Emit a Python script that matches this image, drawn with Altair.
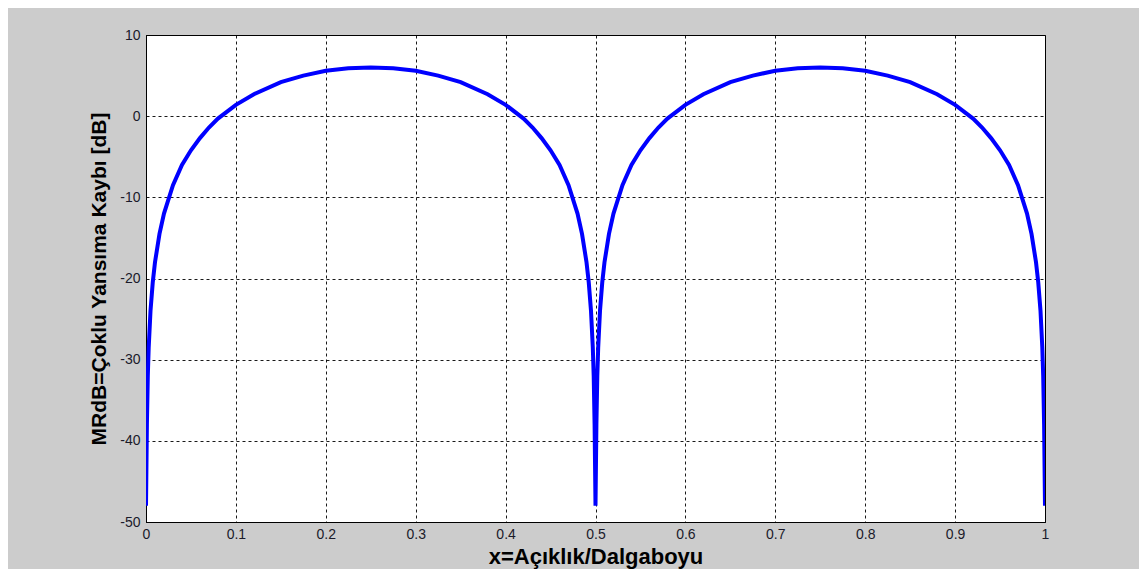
import altair as alt
import pandas as pd

x_vals = [
    0, 0.001, 0.002, 0.003, 0.005, 0.0075, 0.01, 0.015, 0.02, 0.03, 0.04, 0.05,
    0.06, 0.07, 0.08, 0.1, 0.12, 0.15, 0.175, 0.2, 0.225, 0.25, 0.275, 0.3,
    0.325, 0.35, 0.38, 0.4, 0.42, 0.43, 0.44, 0.45, 0.46, 0.47, 0.48, 0.485,
    0.49, 0.4925, 0.495, 0.497, 0.498, 0.499, 0.5,
    0.501, 0.502, 0.503, 0.505, 0.5075, 0.51, 0.515, 0.52, 0.53, 0.54, 0.55,
    0.56, 0.57, 0.58, 0.6, 0.62, 0.65, 0.675, 0.7, 0.725, 0.75, 0.775, 0.8,
    0.825, 0.85, 0.88, 0.9, 0.92, 0.93, 0.94, 0.95, 0.96, 0.97, 0.98, 0.985,
    0.99, 0.9925, 0.995, 0.997, 0.998, 0.999, 1.0,
]
mrdb_vals = [
    -48, -38, -32, -28.5, -24, -20.5, -18, -14.5, -12, -8.5, -6, -4.2,
    -2.7, -1.4, -0.3, 1.4, 2.7, 4.2, 5.0, 5.6, 5.9, 6.0, 5.9, 5.6,
    5.0, 4.2, 2.7, 1.4, -0.3, -1.4, -2.7, -4.2, -6, -8.5, -12, -14.5,
    -18, -20.5, -24, -28.5, -32, -38, -48,
    -38, -32, -28.5, -24, -20.5, -18, -14.5, -12, -8.5, -6, -4.2,
    -2.7, -1.4, -0.3, 1.4, 2.7, 4.2, 5.0, 5.6, 5.9, 6.0, 5.9, 5.6,
    5.0, 4.2, 2.7, 1.4, -0.3, -1.4, -2.7, -4.2, -6, -8.5, -12, -14.5,
    -18, -20.5, -24, -28.5, -32, -38, -48,
]
x_ticks = [0, 0.1, 0.2, 0.3, 0.4, 0.5, 0.6, 0.7, 0.8, 0.9, 1]
y_ticks = [-50, -40, -30, -20, -10, 0, 10]

df = pd.DataFrame({"x": x_vals, "y": mrdb_vals})

chart = (
    alt.Chart(df)
    .mark_line(color="#0000ff", strokeWidth=4, clip=True)
    .encode(
        x=alt.X(
            "x:Q",
            scale=alt.Scale(domain=[0, 1], nice=False, zero=False),
            axis=alt.Axis(
                values=x_ticks,
                title="x=Açıklık/Dalgaboyu",
                titleFontSize=22,
                labelFlush=False,
                labelExpr="datum.value == 0 ? '0' : datum.value == 1 ? '1' : format(datum.value, '.1f')",
            ),
        ),
        y=alt.Y(
            "y:Q",
            scale=alt.Scale(domain=[-50, 10], nice=False, zero=False),
            axis=alt.Axis(
                values=y_ticks,
                title="MRdB=Çoklu Yansıma Kaybı [dB]",
                titleFontSize=21,
                labelFlush=False,
                labelExpr="datum.value < 0 ? '-' + abs(datum.value) : '' + datum.value",
            ),
        ),
    )
    .properties(
        width=899,
        height=487,
        background="#cccccc",
        padding={"left": 138, "top": 27, "right": 94, "bottom": 47},
        autosize=alt.AutoSizeParams(type="none"),
    )
    .configure_view(fill="white", stroke="black", strokeWidth=1)
    .configure_axis(
        labelFont="Liberation Sans",
        labelFontSize=14,
        labelColor="#1a1a2a",
        titleFont="Liberation Sans",
        titleFontWeight="bold",
        titleColor="black",
        domainColor="black",
        ticks=False,
        gridColor="black",
        gridDash=[3, 3],
        gridWidth=1,
        gridOpacity=0.9,
    )
    .configure_axisX(labelPadding=5, titlePadding=5)
    .configure_axisY(labelPadding=6, titlePadding=10)
)

chart.save("out.html", embed_options={"renderer": "svg", "actions": False})
